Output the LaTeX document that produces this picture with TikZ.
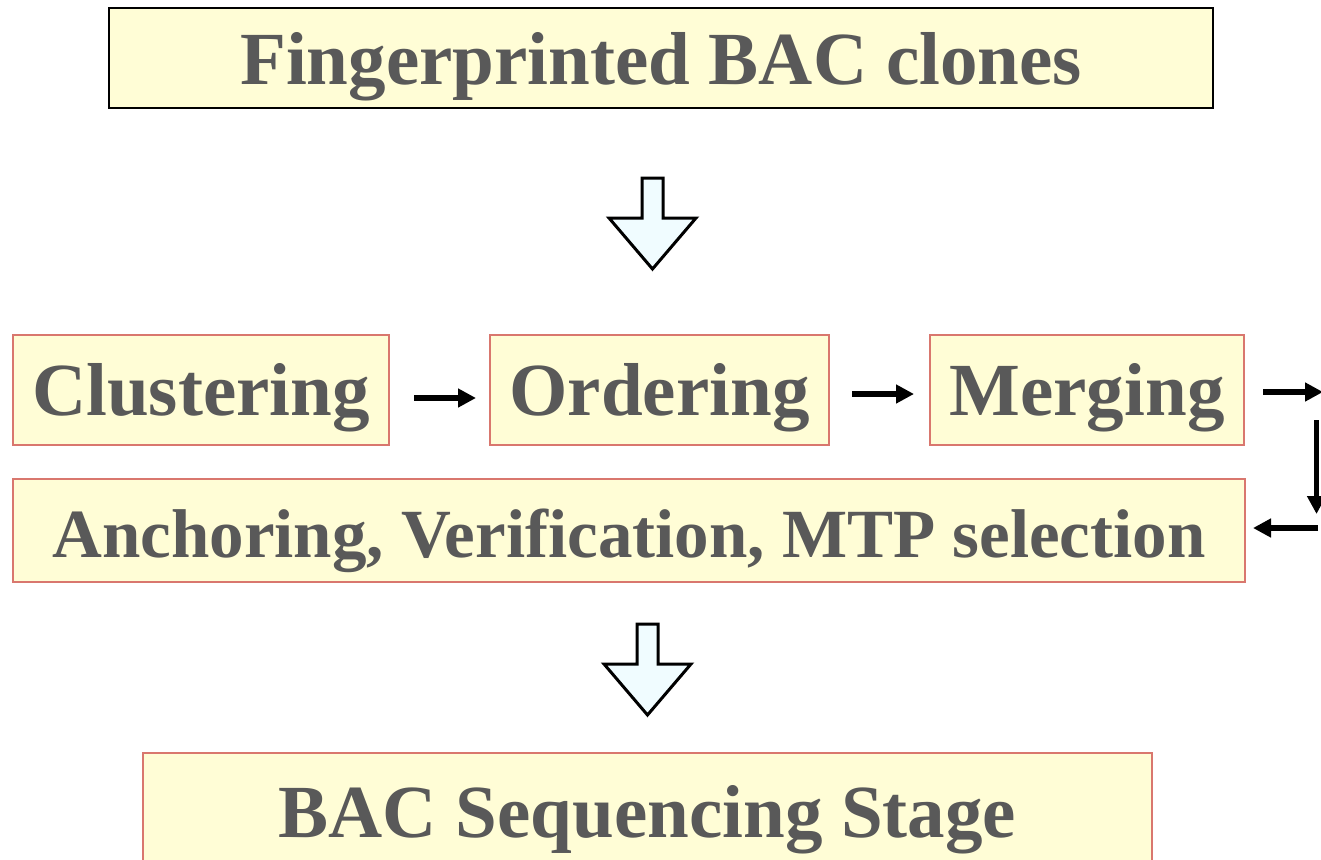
\documentclass[tikz,border=0pt]{standalone}
\usepackage{fontspec}
\setmainfont{Liberation Serif}
\usetikzlibrary{arrows.meta,calc}
\definecolor{boxfill}{HTML}{FFFDD6}
\definecolor{boxedge}{HTML}{D9776E}
\definecolor{txtgray}{HTML}{595959}
\definecolor{blockfill}{HTML}{F0FCFF}
\tikzset{
  stage/.style={draw=boxedge, line width=2pt, fill=boxfill, inner sep=0pt,
    text height=0pt, text depth=0pt,
    text=txtgray, font=\bfseries\fontsize{75}{84}\selectfont},
  conn/.style={line width=5.5pt, -{Triangle[length=18pt,width=18pt]}},
  blockarrow/.style={draw=black, line width=3pt, fill=blockfill, line join=miter}
}
% hollow block arrow pointing down, top centre at #1
\newcommand{\downblock}[1]{%
  \draw[blockarrow] ($#1+(-10.5,0)$) -- ++(21,0) -- ++(0,40) -- ++(33,0)
    -- ++(-43.5,51) -- ++(-43.5,-51) -- ++(33,0) -- cycle;}
\begin{document}
\begin{tikzpicture}[x=1pt,y=-1pt]
\useasboundingbox (0,0) rectangle (1321,859);
\clip (0,0) rectangle (1321,859);

% input and output stages
\node[stage, draw=black, minimum width=1104pt, minimum height=100pt] (fp) at (661,58)
  {\raisebox{-27pt}{Fingerprinted BAC clones}};
\node[stage, minimum width=1009pt, minimum height=160pt] (seq) at (647.5,833)
  {\raisebox{-4pt}{BAC Sequencing Stage}};

% assembly steps
\node[stage, minimum width=376pt, minimum height=110pt] (clu) at (201,390)
  {\raisebox{-25pt}{Clustering}};
\node[stage, minimum width=339pt, minimum height=110pt] (ord) at (659.5,390)
  {\raisebox{-25pt}{Ordering}};
\node[stage, minimum width=314pt, minimum height=110pt] (mer) at (1087,390)
  {\raisebox{-25pt}{Merging}};
\node[stage, minimum width=1232pt, minimum height=103pt, font=\bfseries\fontsize{69}{78}\selectfont] (anc) at (629,530.5)
  {\raisebox{-26.5pt}{Anchoring, Verification, MTP selection}};

% loop back from merging to anchoring
\coordinate (r1) at (1323,392);
\coordinate (r2) at (1316.5,420);
\coordinate (r3) at (1316.5,514);
\coordinate (r4) at (1318,528);

\draw[conn, shorten <=24pt, shorten >=13pt] ([yshift=-8pt]clu.east) -- ([yshift=-8pt]ord.west);
\draw[conn, shorten <=22pt, shorten >=15pt] ([yshift=-4pt]ord.east) -- ([yshift=-4pt]mer.west);
\draw[conn, shorten <=18pt] (mer.east |- r1) -- (r1);
\draw[conn] (r2) -- (r3);
\draw[conn, shorten >=7pt] (r4) -- (r4 -| anc.east);

% block arrows between stages
\coordinate (b1) at ($(fp.south)+(-8.5,69)$);
\coordinate (b2) at ($(anc.south)+(18.5,41)$);
\downblock{(b1)}
\downblock{(b2)}
\end{tikzpicture}
\end{document}
